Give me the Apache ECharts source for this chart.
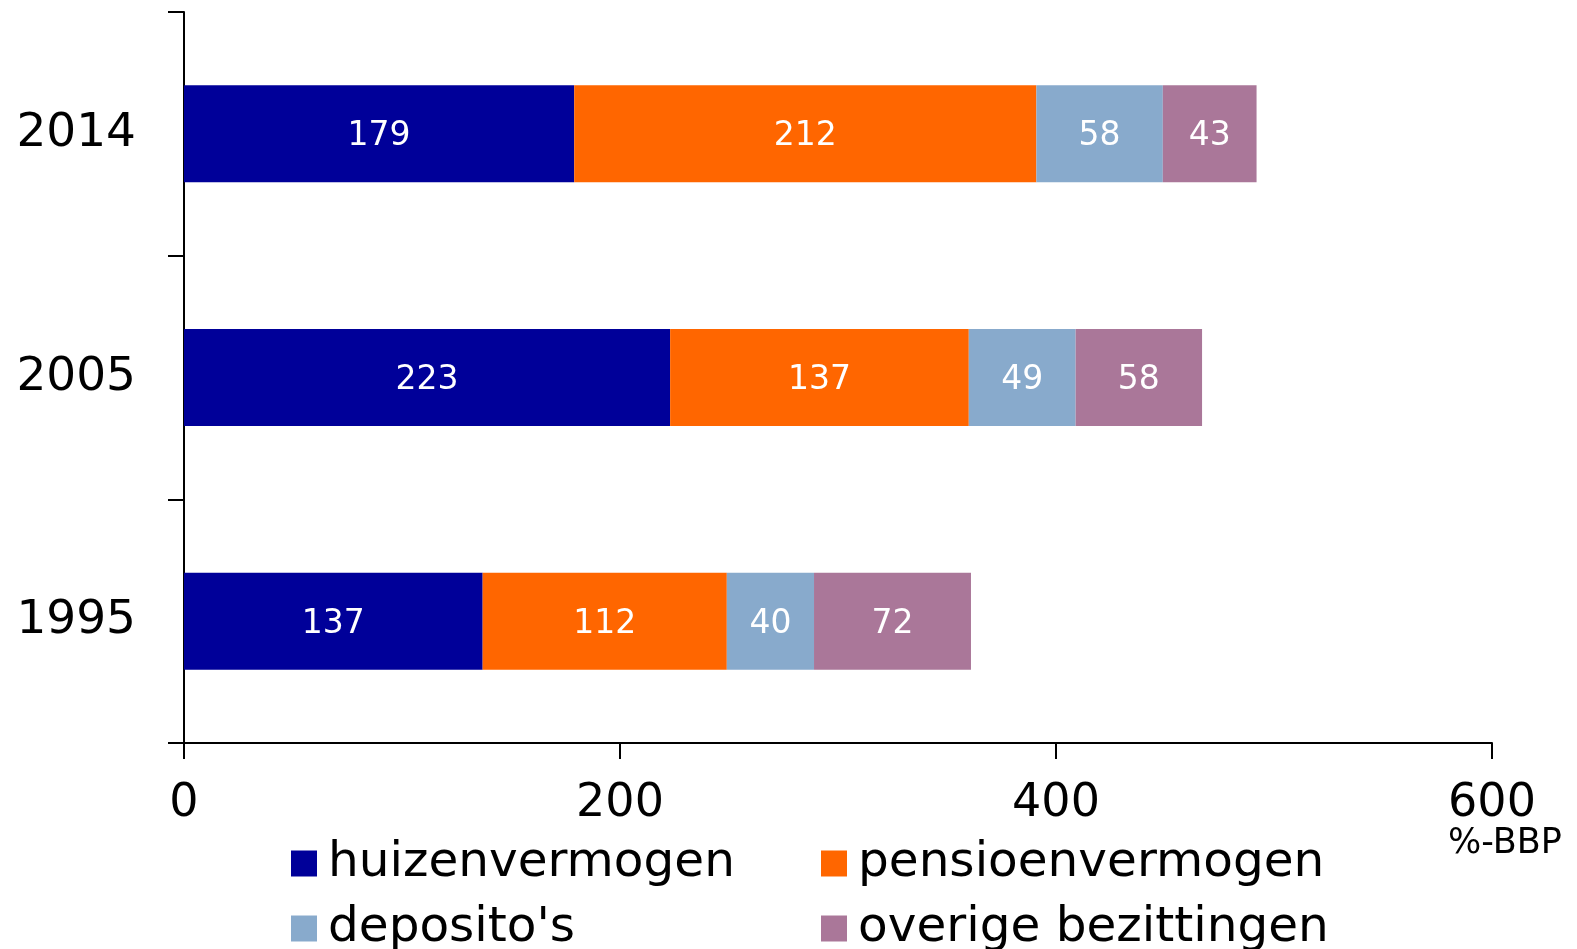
<!DOCTYPE html>
<html>
<head>
<meta charset="utf-8">
<script src="https://cdn.jsdelivr.net/npm/echarts@6/dist/echarts.min.js"></script>
<style>
  html, body { margin: 0; padding: 0; background: #fff; }
  #chart { width: 1577px; height: 949px; }
</style>
</head>
<body>
<div id="chart"></div>
<script>
// jaren (van onder naar boven)
var jaren = ['1995', '2005', '2014'];
// vermogens in %-BBP
var huizen = [137, 223, 179];
var pensioen = [112, 137, 212];
var deposito = [40, 49, 58];
var overige = [72, 58, 43];
var xTicks = [0, 200, 400, 600];

var namen = ['huizenvermogen', 'pensioenvermogen', "deposito's", 'overige bezittingen'];
var kleuren = ['#000099', '#FF6600', '#88AACC', '#AA7799'];
var font = 'DejaVu Sans, Verdana, sans-serif';

function serie(naam, data, kleur) {
    return {
        name: naam,
        type: 'bar',
        stack: 'totaal',
        barWidth: 97,
        data: data,
        itemStyle: { color: kleur },
        label: {
            show: true,
            position: 'inside',
            offset: [0, 3],
            color: '#fff',
            fontSize: 33,
            fontFamily: font
        }
    };
}

// legenda: 2 kolommen x 2 rijen
function legenda(naam, left, top) {
    return {
        left: left,
        top: top,
        itemWidth: 26,
        itemHeight: 26,
        icon: 'rect',
        data: [naam],
        textStyle: { fontSize: 48.5, lineHeight: 48, fontFamily: font, color: '#000', padding: [0, 0, 0, 6] }
    };
}

var myChart = echarts.init(document.getElementById('chart'));

var option = {
    animation: false,
    grid: { left: 184, right: 85, top: 12, bottom: 206, containLabel: false },
    legend: [
        legenda(namen[0], 286, 834),
        legenda(namen[1], 816, 834),
        legenda(namen[2], 286, 899),
        legenda(namen[3], 816, 899)
    ],
    xAxis: {
        type: 'value',
        min: 0,
        max: 600,
        interval: 200,
        splitLine: { show: false },
        axisLine: { show: true, lineStyle: { color: '#000', width: 2 } },
        axisTick: { show: true, length: 16, lineStyle: { color: '#000', width: 2 } },
        axisLabel: {
            color: '#000', fontSize: 46, fontFamily: font, margin: 38,
            formatter: function (v) { return xTicks.indexOf(v) >= 0 ? String(v) : ''; }
        }
    },
    yAxis: {
        type: 'category',
        data: jaren,
        axisLine: { show: true, lineStyle: { color: '#000', width: 2 } },
        axisTick: { show: true, length: 16, lineStyle: { color: '#000', width: 2 } },
        axisLabel: { color: '#000', fontSize: 47, fontFamily: font, margin: 48 }
    },
    graphic: [{
        type: 'text',
        left: 1448,
        top: 826,
        style: { text: '%-BBP', fontSize: 35, fontFamily: font, fill: '#000' }
    }],
    series: [
        serie(namen[0], huizen, kleuren[0]),
        serie(namen[1], pensioen, kleuren[1]),
        serie(namen[2], deposito, kleuren[2]),
        serie(namen[3], overige, kleuren[3])
    ]
};

myChart.setOption(option);
</script>
</body>
</html>
